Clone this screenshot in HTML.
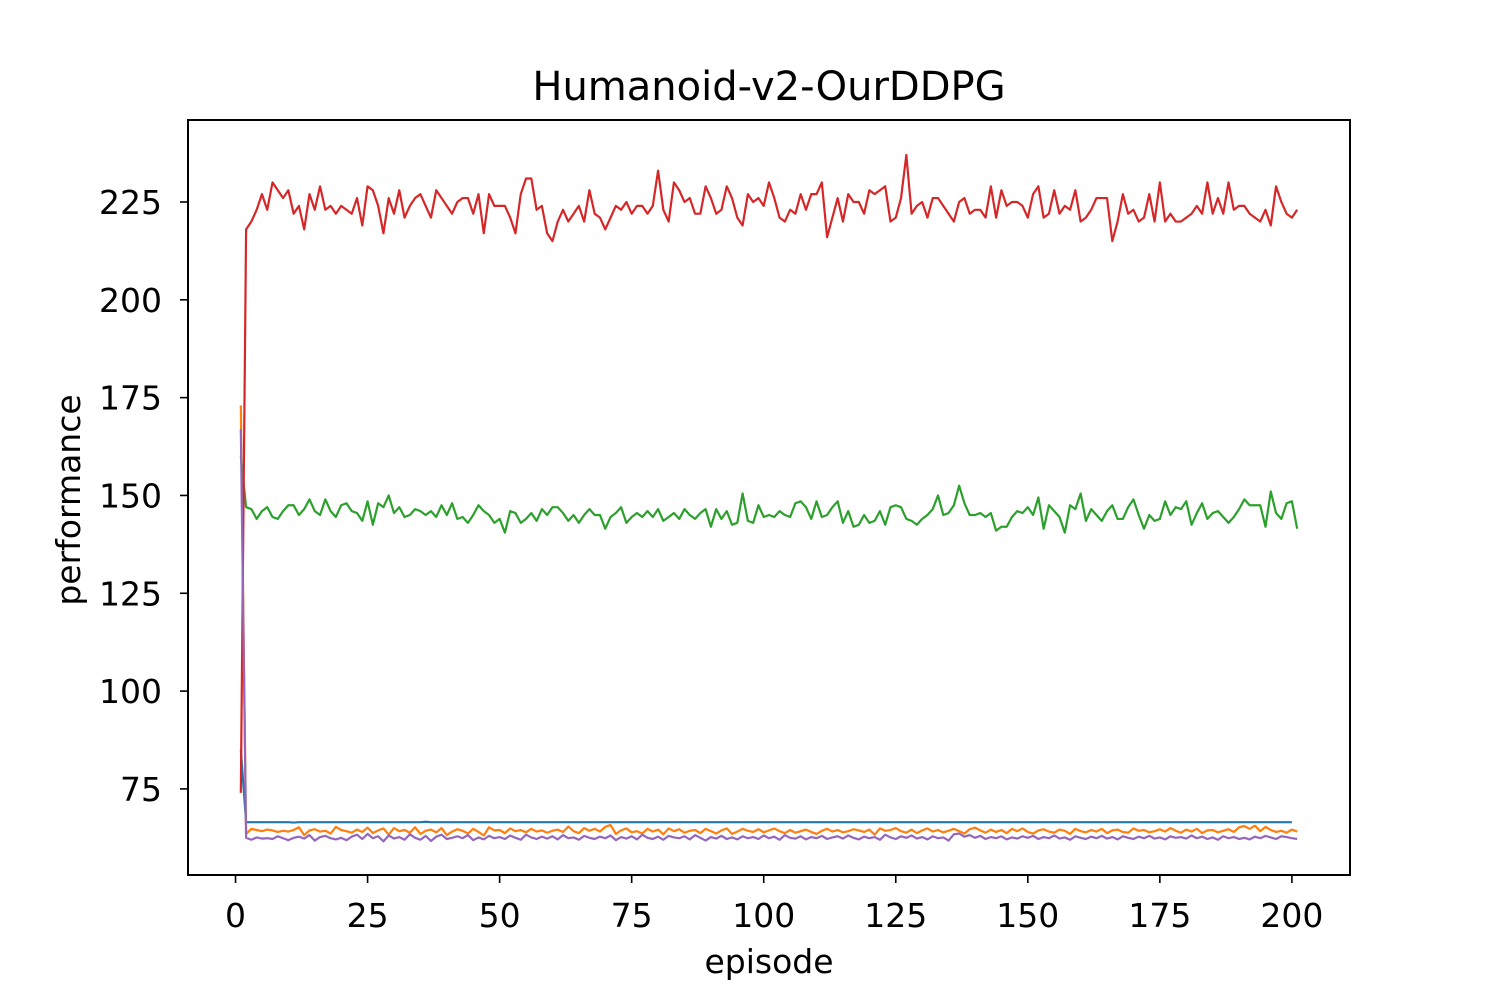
<!DOCTYPE html>
<html><head><meta charset="utf-8"><style>
body{margin:0;background:#fff;}
svg text{font-family:"DejaVu Sans","Liberation Sans",sans-serif;fill:#000;}
</style></head><body>
<svg id="chart" width="1500" height="1000" xmlns="http://www.w3.org/2000/svg">
<rect width="1500" height="1000" fill="#fff"/>
<g id="plot"></g>
<rect x="188" y="120" width="1162" height="755" fill="none" stroke="#000" stroke-width="2"/>
<g id="axes"></g>
<text x="769" y="100" font-size="40" text-anchor="middle">Humanoid-v2-OurDDPG</text>
<text x="769" y="973" font-size="33" text-anchor="middle">episode</text>
<text x="0" y="0" font-size="33" text-anchor="middle" transform="translate(80,500) rotate(-90)">performance</text>
</svg>
<script>
const N=201;
const xTicks=[0,25,50,75,100,125,150,175,200];
const yTicks=[75,100,125,150,175,200,225];
const red=[74,218,220,223,227,223,230,228,226,228,222,224,218,227,223,229,223,224,222,224,223,222,226,219,229,228,224,217,226,222,228,221,224,226,227,224,221,228,226,224,222,225,226,226,222,227,217,227,224,224,224,221,217,227,231,231,223,224,217,215,220,223,220,222,224,220,228,222,221,218,221,224,223,225,222,224,224,222,224,233,223,220,230,228,225,226,222,222,229,226,222,223,229,226,221,219,227,225,226,224,230,226,221,220,223,222,227,223,227,227,230,216,221,226,220,227,225,225,222,228,227,228,229,220,221,226,237,222,224,225,221,226,226,224,222,220,225,226,222,223,223,221,229,221,228,224,225,225,224,221,227,229,221,222,228,222,224,223,228,220,221,223,226,226,226,215,220,227,222,223,220,221,227,220,230,220,222,220,220,221,222,224,222,230,222,226,222,230,223,224,224,222,221,220,223,219,229,225,222,221,223];
const green=[160,147,146.5,144,146,147,144.5,144,146,147.5,147.5,145,146.5,149,146,145,149,146,144.5,147.5,148,146,145.5,143.5,148.5,142.5,148,147,150,145.5,147,144.5,145,146.5,146,145,146,144.5,147.5,145,148,144,144.5,143,145,147.5,146,145,143,144,140.5,146,145.5,143,144,145.5,143.5,146.5,145,147,147,145.5,143.5,145,143,145,146.5,145,145,141.5,144.5,145.5,147,143,144.5,145.5,144.5,146,144.5,146.5,143.5,144.5,145.5,144,146.5,145,144,145.5,146.5,142,146.5,144,146,142.5,143,150.5,143.5,143,147.5,144.5,145,144.5,146,145,144.5,148,148.5,147,144,148.5,144.5,145,147,148.5,143,146,142,142.5,145,143,143.5,146,142.5,147,147.5,147,144,143.5,142.5,144,145,146.5,150,145,145.5,147.5,152.5,148,145,145,145.5,144.5,145.5,141,142,142,144.5,146,145.5,147,145,149.5,141.5,147.5,146,144.5,140.5,147.5,146.5,150.5,143.5,146.5,145,143.5,146,147.5,144,144,147,149,145,141.5,145,143.5,144,148.5,145,147,146.5,148.5,142.5,145.5,148,144,145.5,146,144.5,143,144.5,146.5,149,147.5,147.5,147.5,142,151,145.5,144,148,148.5,141.5,143,147.5,148.5,145];
const blue=[85,66.5,66.5,66.5,66.5,66.5,66.5,66.5,66.5,66.5,66.4,66.5,66.5,66.5,66.5,66.5,66.5,66.5,66.5,66.5,66.5,66.5,66.5,66.5,66.5,66.5,66.5,66.5,66.5,66.5,66.5,66.5,66.5,66.5,66.5,66.6,66.5,66.5,66.5,66.5,66.5,66.5,66.5,66.5,66.5,66.5,66.5,66.5,66.5,66.5,66.5,66.5,66.5,66.5,66.5,66.5,66.5,66.5,66.5,66.5,66.5,66.5,66.5,66.5,66.5,66.5,66.5,66.5,66.5,66.5,66.5,66.5,66.5,66.5,66.5,66.5,66.5,66.5,66.5,66.5,66.5,66.5,66.5,66.5,66.5,66.5,66.5,66.5,66.5,66.5,66.5,66.5,66.5,66.5,66.5,66.5,66.5,66.5,66.5,66.5,66.5,66.5,66.5,66.5,66.5,66.5,66.5,66.5,66.5,66.5,66.5,66.5,66.5,66.5,66.5,66.5,66.5,66.5,66.5,66.5,66.5,66.5,66.5,66.5,66.5,66.5,66.5,66.5,66.5,66.5,66.5,66.5,66.5,66.5,66.5,66.5,66.5,66.5,66.5,66.5,66.5,66.5,66.5,66.5,66.5,66.5,66.5,66.5,66.5,66.5,66.5,66.5,66.5,66.5,66.5,66.5,66.5,66.5,66.5,66.5,66.5,66.5,66.5,66.5,66.5,66.5,66.5,66.5,66.5,66.5,66.5,66.5,66.5,66.5,66.5,66.5,66.5,66.5,66.5,66.5,66.5,66.5,66.5,66.5,66.5,66.5,66.5,66.5,66.5,66.5,66.5,66.5,66.5,66.5,66.5,66.5,66.5,66.5,66.5,66.5];
const orange=[173,63.5,64.8,64.5,64.2,64.6,64.4,64.0,64.3,64.1,64.5,65.2,63.2,64.4,64.7,64.1,64.3,63.6,65.3,64.5,64.2,63.8,64.6,64.0,65.1,63.7,64.4,64.9,63.3,65.0,64.2,64.5,63.8,65.2,63.5,64.3,64.6,63.9,65.0,63.2,64.1,64.7,64.3,63.6,64.8,64.0,63.1,65.2,64.4,64.5,63.7,64.9,64.2,64.5,63.9,64.8,64.1,64.4,63.8,64.3,64.6,64.0,65.4,64.2,63.7,65.0,64.3,64.8,64.1,65.3,65.8,63.5,64.4,64.9,63.9,64.2,63.6,64.8,64.1,64.6,63.4,64.9,64.2,64.7,63.8,64.3,64.5,63.7,64.8,64.2,63.6,64.4,64.9,63.5,64.1,64.8,64.3,64.0,64.7,63.9,64.4,64.9,64.2,63.7,64.5,63.8,64.2,64.6,64.0,63.5,64.3,64.8,64.1,64.5,63.9,64.2,64.7,64.4,64.0,64.6,63.3,64.9,64.3,64.5,65.0,64.2,63.8,64.6,63.7,64.4,64.9,64.1,64.5,63.9,64.3,64.8,64.2,63.6,64.7,65.1,64.4,63.8,64.6,64.0,64.5,63.7,64.8,64.2,64.9,64.0,63.6,64.4,64.7,64.1,63.8,64.6,64.3,63.5,64.8,64.2,63.9,64.5,64.1,64.8,63.7,64.4,64.6,64.0,63.8,64.9,64.3,64.5,63.9,64.2,64.7,64.1,65.0,64.3,63.8,64.6,64.1,64.8,63.7,64.4,64.5,63.9,64.3,64.7,64.0,65.2,65.5,64.8,65.6,64.2,65.3,64.5,64.0,64.3,63.8,64.6,64.1,63.7,63.5];
const purple=[167,62.5,62.0,62.6,62.3,62.4,62.2,62.9,62.4,61.9,62.5,62.8,62.3,63.2,61.8,62.7,63.0,62.4,62.1,62.5,61.9,62.8,63.3,62.2,63.5,62.4,62.9,61.6,63.1,62.3,62.7,62.0,63.4,62.5,62.0,63.0,61.7,62.8,63.3,62.2,62.5,62.9,62.4,63.2,61.9,62.6,62.1,63.0,62.4,62.7,62.2,63.1,62.5,62.0,63.3,62.6,62.2,62.8,62.3,62.9,62.1,63.2,62.4,62.6,62.0,63.0,62.5,62.2,62.8,62.4,63.1,61.9,62.7,62.3,62.9,62.1,63.3,62.5,62.2,62.8,62.0,63.0,62.6,62.4,62.9,62.1,63.2,62.5,61.8,62.7,62.3,63.0,62.2,62.6,62.1,62.9,62.4,62.7,62.2,63.1,62.4,62.8,62.0,63.2,62.5,62.3,62.9,62.1,62.7,62.4,63.0,62.2,62.6,62.9,62.3,63.1,62.5,62.1,62.8,62.4,62.7,62.0,63.3,62.6,62.2,62.9,62.5,63.1,62.3,62.7,62.1,62.9,62.4,62.6,61.8,63.4,63.6,62.8,63.2,62.5,63.0,62.2,62.7,62.4,62.9,62.1,62.6,62.3,62.9,62.5,63.0,62.2,62.7,62.4,63.1,62.3,62.6,62.0,62.9,62.5,62.2,62.8,62.4,63.0,62.3,62.7,62.1,62.9,62.5,62.2,62.8,62.4,63.0,62.3,62.6,62.1,62.9,62.5,62.7,62.3,63.1,62.4,62.8,62.2,62.6,62.0,62.9,62.4,62.7,62.2,62.5,62.1,62.8,62.4,63.0,62.6,62.2,62.9,62.7,62.4,62.2];
const X0=188,X1=1350,Y0=120,Y1=875,XMIN=-9,XMAX=211,YMIN=53.0,YMAX=245.95;
function sx(v){return X0+(v-XMIN)/(XMAX-XMIN)*(X1-X0);}
function sy(v){return Y1-(v-YMIN)/(YMAX-YMIN)*(Y1-Y0);}
const NS='http://www.w3.org/2000/svg';
const plot=document.getElementById('plot');
const axes=document.getElementById('axes');
const series=[['blue',blue,'#1f77b4'],['orange',orange,'#ff7f0e'],['green',green,'#2ca02c'],['red',red,'#d62728'],['purple',purple,'#9467bd']];
series.forEach(s=>{
  const p=document.createElementNS(NS,'polyline');
  p.setAttribute('points',s[1].slice(0,N).map((v,i)=>sx(i+1).toFixed(2)+','+sy(v).toFixed(2)).join(' '));
  p.setAttribute('fill','none');p.setAttribute('stroke',s[2]);p.setAttribute('stroke-width','2.2');
  p.setAttribute('stroke-linejoin','round');
  
  
  plot.appendChild(p);
});
xTicks.forEach(t=>{
  const x=sx(t);
  const l=document.createElementNS(NS,'line');
  l.setAttribute('x1',x);l.setAttribute('x2',x);l.setAttribute('y1',875);l.setAttribute('y2',883);l.setAttribute('stroke','#000');l.setAttribute('stroke-width','1.6');
  
  
  axes.appendChild(l);
  const tx=document.createElementNS(NS,'text');
  tx.setAttribute('x',x);tx.setAttribute('y',927);tx.setAttribute('font-size','33');tx.setAttribute('text-anchor','middle');
  tx.textContent=t;
  
  
  axes.appendChild(tx);
});
yTicks.forEach(t=>{
  const y=sy(t);
  const l=document.createElementNS(NS,'line');
  l.setAttribute('x1',180);l.setAttribute('x2',188);l.setAttribute('y1',y);l.setAttribute('y2',y);l.setAttribute('stroke','#000');l.setAttribute('stroke-width','1.6');
  
  
  axes.appendChild(l);
  const tx=document.createElementNS(NS,'text');
  tx.setAttribute('x',162);tx.setAttribute('y',y+12);tx.setAttribute('font-size','33');tx.setAttribute('text-anchor','end');
  tx.textContent=t;
  
  
  axes.appendChild(tx);
});
</script>
</body></html>
